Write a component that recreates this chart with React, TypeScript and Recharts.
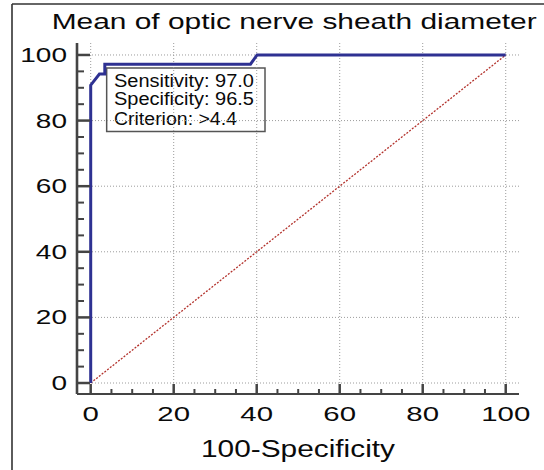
import React from 'react';
import { LineChart, Line, XAxis, YAxis, ReferenceLine, ReferenceArea } from 'recharts';

const rocFpr = [0, 0, 2.1, 3.4, 3.4, 38.5, 40.1, 100];
const rocSens = [0, 90.8, 94.2, 94.2, 97.2, 97.2, 100, 100];
const refFpr = [0, 100];
const refSens = [0, 100];
const majorTicks = [0, 20, 40, 60, 80, 100];
const allTicks = [0, 5, 10, 15, 20, 25, 30, 35, 40, 45, 50, 55, 60, 65, 70, 75, 80, 85, 90, 95, 100];
const boxLines = ['Sensitivity: 97.0', 'Specificity: 96.5', 'Criterion: >4.4'];
const boxLineWidths = [140, 140, 123];
const titleText = 'Mean of optic nerve sheath diameter';
const xTitle = '100-Specificity';
const xDomain = [-3.3, 103.2];
const yDomain = [-3.35, 103.65];
const boxX = [3.85, 42];
const boxY = [76.7, 96];

const rocData = rocFpr.map((x, i) => ({ x, y: rocSens[i] }));
const refData = refFpr.map((x, i) => ({ x, y: refSens[i] }));

const FONT = '"Liberation Sans", Arial, Helvetica, sans-serif';
const AXIS = '#444';
const INK = '#0a0a0a';

const XTick = (props: any) => {
  const { x, y, payload } = props;
  const v = payload.value;
  const major = v % 20 === 0;
  return (
    <g>
      <line x1={x} x2={x} y1={y} y2={y - (major ? 10 : 5)} stroke={AXIS} strokeWidth={major ? 2.5 : 2} />
      {major && (
        <text transform={`translate(${x},${y + 27.4}) scale(1.4,1)`} textAnchor="middle" fontSize={21} fill={INK} fontFamily={FONT}>
          {v}
        </text>
      )}
    </g>
  );
};

const YTick = (props: any) => {
  const { x, y, payload } = props;
  const v = payload.value;
  const major = v % 20 === 0;
  return (
    <g>
      <line x1={x} x2={x + (major ? 13 : 7)} y1={y} y2={y} stroke={AXIS} strokeWidth={major ? 2.5 : 2} />
      {major && (
        <text transform={`translate(${x - 10},${y + 7}) scale(1.4,1)`} textAnchor="end" fontSize={20} fill={INK} fontFamily={FONT}>
          {v}
        </text>
      )}
    </g>
  );
};

const BoxLabel = (props: any) => {
  const vb = props.viewBox || {};
  const offs = [19, 37.4, 56.7];
  return (
    <g>
      {boxLines.map((t, i) => (
        <text key={i} x={vb.x + 7.3} y={vb.y + offs[i]} fontSize={17.5} fill={INK} fontFamily={FONT}
          textLength={boxLineWidths[i]} lengthAdjust="spacingAndGlyphs">
          {t}
        </text>
      ))}
    </g>
  );
};

const XTitle = (props: any) => {
  const vb = props.viewBox || {};
  return (
    <text x={vb.x + vb.width / 2} y={vb.y + 63} textAnchor="middle" fontSize={23} fill={INK} fontFamily={FONT}
      textLength={194} lengthAdjust="spacingAndGlyphs">
      {xTitle}
    </text>
  );
};

export default function App() {
  return (
    <div style={{ position: 'absolute', left: 0, top: 0, width: 544, height: 470, background: '#fff' }}>
      <svg width={544} height={470} style={{ position: 'absolute', left: 0, top: 0 }}>
        <line x1={12} x2={544} y1={4} y2={4} stroke="#333" strokeWidth={1.6} />
        <line x1={12} x2={12} y1={4} y2={470} stroke="#333" strokeWidth={1.6} />
        <text x={51.7} y={29.3} fontSize={22.5} fill={INK} fontFamily={FONT} textLength={485} lengthAdjust="spacingAndGlyphs">
          {titleText}
        </text>
      </svg>
      <div style={{ position: 'absolute', left: 0, top: 0 }}>
        <LineChart width={544} height={470} margin={{ top: 43, right: 25, bottom: 36, left: 17 }}>
          <XAxis
            type="number"
            dataKey="x"
            domain={xDomain}
            ticks={allTicks}
            interval={0}
            allowDataOverflow
            height={40}
            tickSize={0}
            tickMargin={0}
            tickLine={false}
            axisLine={{ stroke: AXIS, strokeWidth: 2.2 }}
            tick={<XTick />}
            label={<XTitle />}
          />
          <YAxis
            type="number"
            dataKey="y"
            domain={yDomain}
            ticks={allTicks}
            interval={0}
            allowDataOverflow
            width={60}
            tickSize={0}
            tickMargin={0}
            tickLine={false}
            axisLine={{ stroke: AXIS, strokeWidth: 2.6 }}
            tick={<YTick />}
          />
          {majorTicks.map((v) => (
            <ReferenceLine key={'h' + v} y={v} stroke="#9c9c9c" strokeWidth={1} strokeDasharray="1 2" />
          ))}
          {majorTicks.map((v) => (
            <ReferenceLine key={'v' + v} segment={[{ x: v, y: 0 }, { x: v, y: yDomain[1] }]} stroke="#9c9c9c" strokeWidth={1} strokeDasharray="1 2" />
          ))}
          <Line data={refData} dataKey="y" type="linear" stroke="#b3322c" strokeWidth={1.3} strokeDasharray="2 1.5" dot={false} activeDot={false} isAnimationActive={false} />
          <Line data={rocData} dataKey="y" type="linear" stroke="#2e3192" strokeWidth={3} dot={false} activeDot={false} isAnimationActive={false} />
          <ReferenceArea x1={boxX[0]} x2={boxX[1]} y1={boxY[0]} y2={boxY[1]} fill="#fff" fillOpacity={1} stroke="#555" strokeWidth={1.5} label={<BoxLabel />} />
        </LineChart>
      </div>
    </div>
  );
}
